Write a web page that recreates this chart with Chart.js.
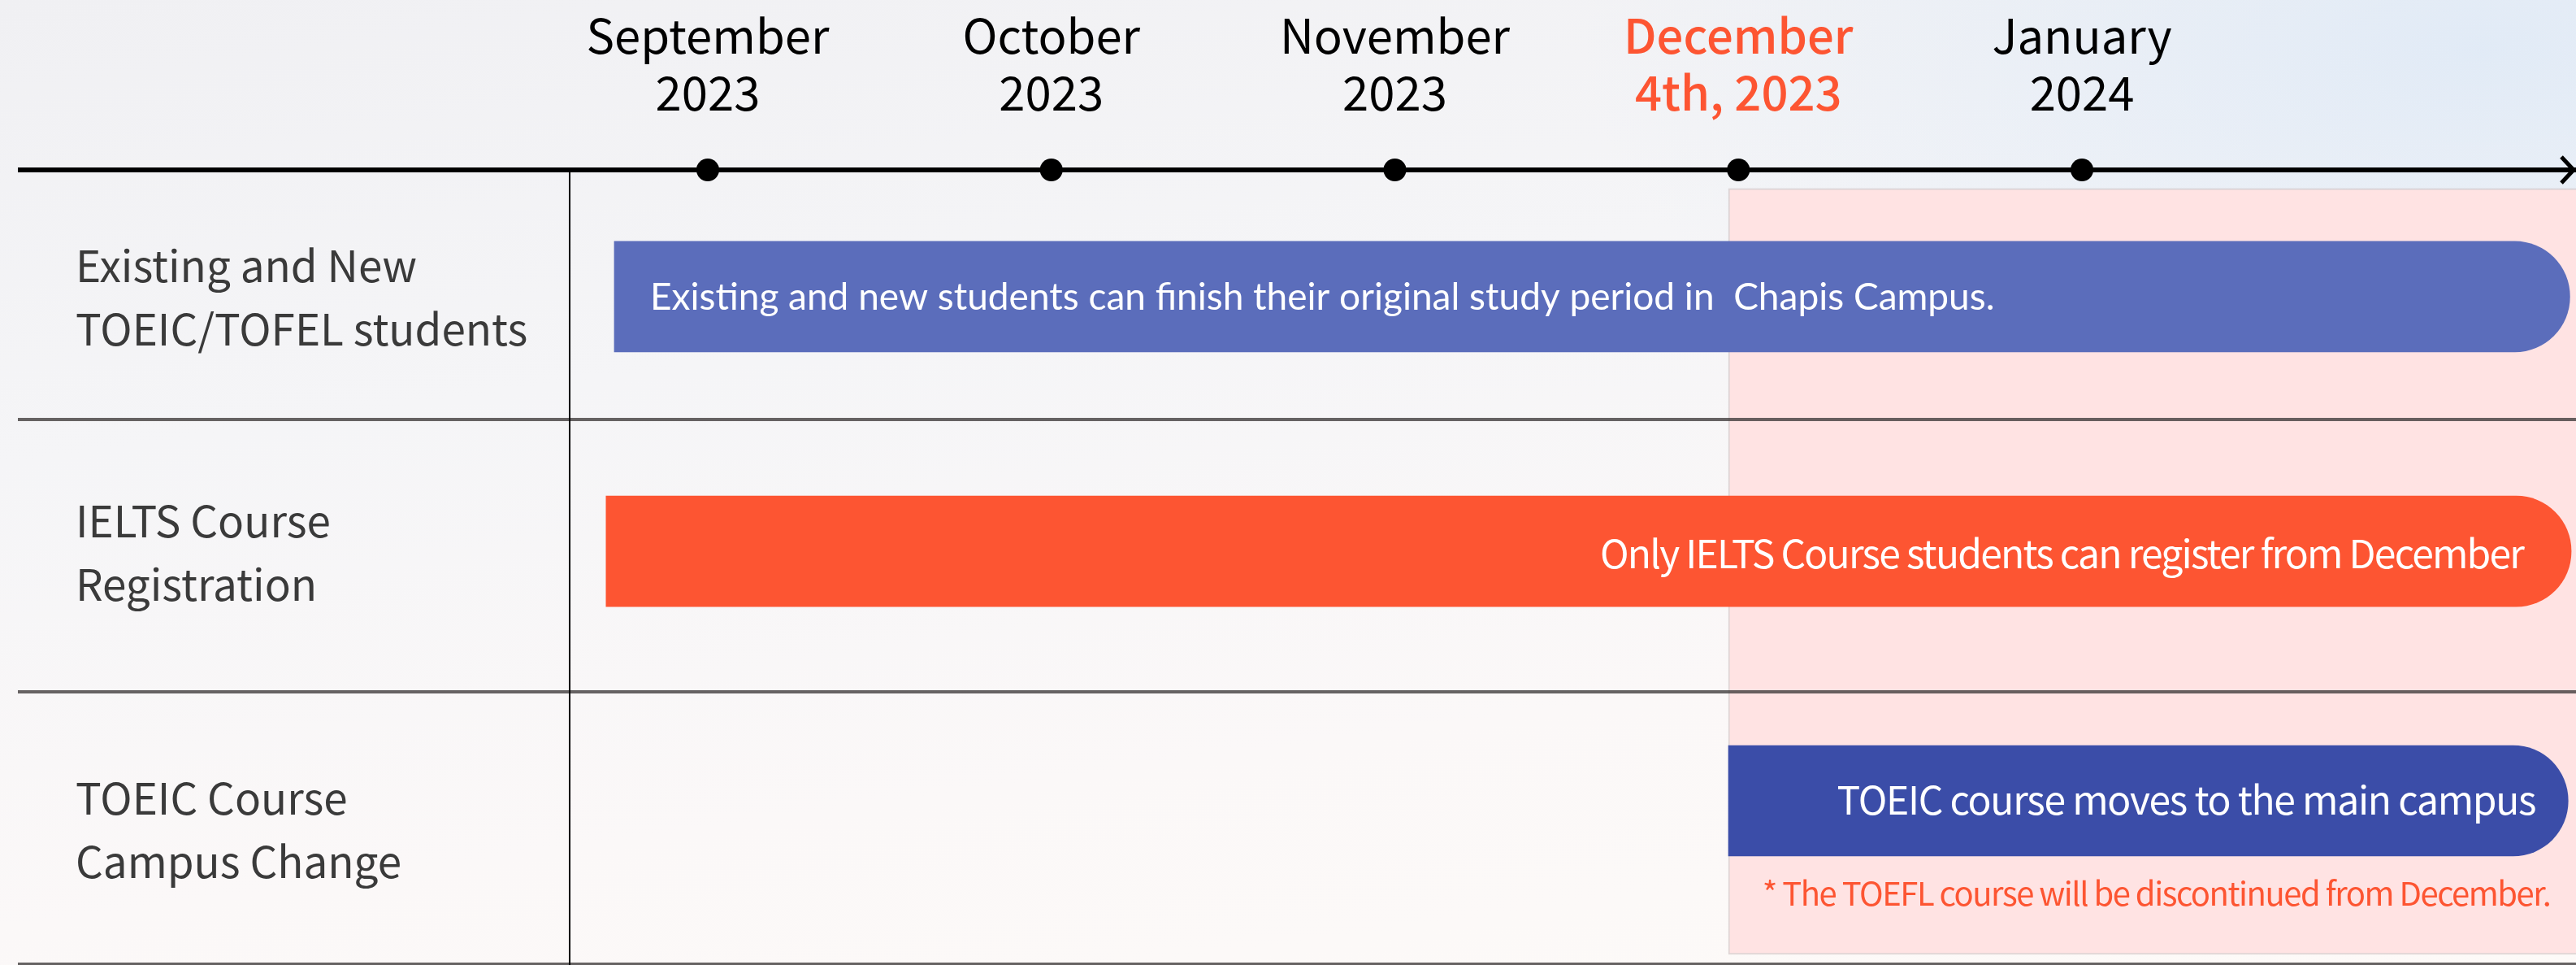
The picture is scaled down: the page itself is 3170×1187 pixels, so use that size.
<!DOCTYPE html>
<html>
<head>
<meta charset="utf-8">
<script src="https://cdn.jsdelivr.net/npm/chart.js@4.4.1/dist/chart.umd.min.js"></script>
<style>
  html, body { margin: 0; padding: 0; }
  body {
    width: 3170px; height: 1187px; overflow: hidden;
    background:
      radial-gradient(ellipse 1100px 520px at 3050px 60px, rgba(222,233,246,0.85), rgba(222,233,246,0) 100%),
      linear-gradient(172deg, #f0f0f3 0%, #f5f5f7 35%, #fbf8f8 70%, #fdfaf8 100%);
  }
  #wrap { position: relative; width: 3170px; height: 1187px; }
  canvas { display: block; }
</style>
</head>
<body>
<div id="wrap"><canvas id="chart" width="3170" height="1187"></canvas></div>
<script>
// ---------------- data ----------------
// x axis unit: months after September 2023 (0 = September 2023)
const monthTicks = [0, 1, 2, 3, 4];
const monthLabels = [
  ["September", "2023"],
  ["October", "2023"],
  ["November", "2023"],
  ["December", "4th, 2023"],
  ["January", "2024"]
];
const highlightMonthIndex = 3;

// y axis unit: table rows (row i spans i .. i+1)
const rowLabels = [
  ["Existing and New", "TOEIC/TOFEL students"],
  ["IELTS Course", "Registration"],
  ["TOEIC Course", "Campus Change"]
];
const rowLabelAt = [0.552, 1.49, 2.507];
const rowDividers = [1, 2, 3];

const barRowAt  = [0.549, 1.484, 2.40];
const barStart  = [-0.272, -0.296, 2.971];
const barEnd    = [5.42, 5.424, 5.415];
const barColors = ["#5b6dbb", "#fd5532", "#3b4da8"];
const barTexts  = [
  "Existing and new students can finish their original study period in  Chapis Campus.",
  "Only IELTS Course students can register from December",
  "TOEIC course moves to the main campus"
];
const barTextAlign = ["left", "right", "right"];

const highlightFrom = 2.971;
const highlightTo = 5.6;
const highlightRowAt = 1.558;

const footnote = "* The TOEFL course will be discontinued from December.";

// axis ranges
const xMin = -0.402, xMax = 5.438;
const yTop = 0.0836, yBottom = 3.003;

// ---------------- rendering ----------------
const SANS = "'Noto Sans CJK KR', 'Source Sans Pro', 'Noto Sans', sans-serif";
const ORANGE = "#fd5532";

const barTextPlugin = {
  id: 'barText',
  afterDatasetsDraw(chart, args, opts) {
    const meta = chart.getDatasetMeta(1);
    const ctx = chart.ctx;
    meta.data.forEach((el, i) => {
      const p = el.getProps(['x', 'base', 'y'], true);
      const left = Math.min(p.x, p.base), right = Math.max(p.x, p.base);
      ctx.save();
      ctx.font = opts.fonts[i];
      ctx.letterSpacing = opts.spacing[i];
      ctx.fillStyle = '#ffffff';
      ctx.textBaseline = 'alphabetic';
      ctx.textAlign = barTextAlign[i];
      const tx = barTextAlign[i] === 'left' ? left + opts.inset[i] : right - opts.inset[i];
      ctx.fillText(barTexts[i], tx, p.y + opts.baseline[i]);
      if (i === meta.data.length - 1) {
        ctx.font = opts.footFont;
        ctx.letterSpacing = opts.footSpacing;
        ctx.fillStyle = ORANGE;
        ctx.textAlign = 'right';
        ctx.fillText(footnote, right - opts.footInset, p.y + opts.footBaseline);
      }
      ctx.restore();
    });
  }
};

const arrowPlugin = {
  id: 'arrowHead',
  afterDraw(chart) {
    const ctx = chart.ctx;
    const y = chart.scales.y.getPixelForValue(yTop);
    const x = chart.chartArea.right - 3;
    ctx.save();
    ctx.strokeStyle = '#000';
    ctx.lineWidth = 5;
    ctx.lineCap = 'butt';
    ctx.lineJoin = 'miter';
    ctx.beginPath();
    ctx.moveTo(x - 15, y - 16);
    ctx.lineTo(x, y);
    ctx.lineTo(x - 15, y + 16);
    ctx.stroke();
    ctx.restore();
  }
};

const monthFont = {family: SANS, size: 58, lineHeight: 70 / 58, weight: 'normal'};
const monthFontHi = {family: SANS, size: 58, lineHeight: 70 / 58, weight: 500};

new Chart(document.getElementById('chart'), {
  type: 'bar',
  data: {
    datasets: [
      {
        type: 'line',
        data: monthTicks.map(m => ({x: m, y: yTop})),
        showLine: false,
        pointRadius: 14,
        pointBackgroundColor: '#000',
        pointBorderWidth: 0,
        clip: false
      },
      {
        data: barRowAt.map((r, i) => ({x: [barStart[i], barEnd[i]], y: r})),
        backgroundColor: barColors,
        barThickness: 136,
        grouped: false,
        borderSkipped: false,
        borderWidth: 0,
        borderRadius: {topLeft: 0, bottomLeft: 0, topRight: 68, bottomRight: 68}
      },
      {
        data: [{x: [highlightFrom, highlightTo], y: highlightRowAt}],
        backgroundColor: '#ffe3e3',
        borderColor: 'rgba(200,185,185,0.55)',
        borderWidth: 2,
        borderSkipped: false,
        barThickness: 942,
        grouped: false
      }
    ]
  },
  options: {
    indexAxis: 'y',
    responsive: false,
    animation: false,
    devicePixelRatio: 1,
    layout: {autoPadding: false, padding: {left: 93, top: 0, right: 0, bottom: 0}},
    plugins: {
      legend: {display: false},
      tooltip: {enabled: false},
      barText: {
        fonts: [
          `46px Lato, ${SANS}`,
          `48px ${SANS}`,
          `48px ${SANS}`
        ],
        spacing: ['0px', '-1.8px', '-1.3px'],
        inset: [44, 59, 40],
        baseline: [16, 21, 17.5],
        footFont: `40px ${SANS}`,
        footSpacing: '-1.5px',
        footInset: 22,
        footBaseline: 129.5
      }
    },
    scales: {
      x: {
        type: 'linear',
        position: 'top',
        min: xMin,
        max: xMax,
        offset: false,
        afterBuildTicks: s => { s.ticks = monthTicks.map(v => ({value: v})); },
        afterFit: s => { s.height = 209; s.paddingLeft = 0; s.paddingRight = 0; },
        grid: {display: false, drawTicks: false, offset: false},
        border: {display: true, color: '#000', width: 6},
        ticks: {
          autoSkip: false,
          maxRotation: 0,
          padding: 60,
          color: c => c.index === highlightMonthIndex ? ORANGE : '#000',
          font: c => c.index === highlightMonthIndex ? monthFontHi : monthFont,
          callback: v => monthLabels[monthTicks.indexOf(v)] || ''
        }
      },
      y: {
        type: 'linear',
        position: 'left',
        reverse: true,
        min: yTop,
        max: yBottom,
        offset: false,
        afterBuildTicks: s => {
          s.ticks = [yTop, ...rowLabelAt, ...rowDividers].sort((a, b) => a - b).map(v => ({value: v}));
        },
        afterFit: s => { s.width = 608; s.paddingTop = 0; s.paddingBottom = 0; },
        grid: {
          z: 1,
          offset: false,
          drawTicks: true,
          tickLength: 679,
          color: c => {
            const v = c.tick && c.tick.value;
            if (v === yTop) return '#000';
            if (rowDividers.includes(v)) return 'rgba(60,56,56,0.78)';
            return 'rgba(0,0,0,0)';
          },
          lineWidth: c => (c.tick && c.tick.value === yTop) ? 6 : 4
        },
        border: {display: true, color: '#000', width: 2, z: 2},
        ticks: {
          autoSkip: false,
          crossAlign: 'far',
          padding: 0,
          color: '#3a3a3a',
          font: {family: SANS, size: 53, lineHeight: 78 / 53},
          callback: v => {
            const i = rowLabelAt.indexOf(v);
            return i >= 0 ? rowLabels[i] : '';
          }
        }
      }
    }
  },
  plugins: [barTextPlugin, arrowPlugin]
});
</script>
</body>
</html>
